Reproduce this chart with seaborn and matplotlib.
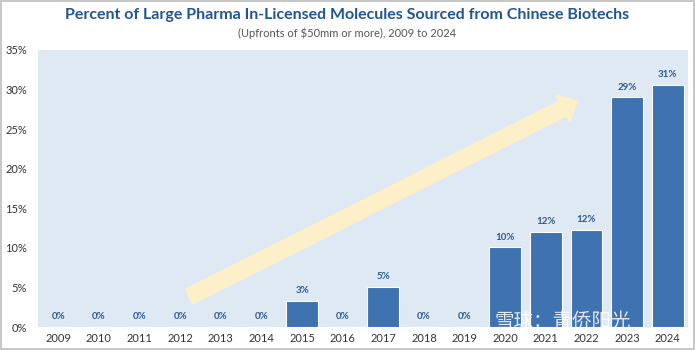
import matplotlib
matplotlib.use("Agg")
import matplotlib.pyplot as plt
import seaborn as sns
import pandas as pd
from matplotlib.patches import ArrowStyle

years = ["2009", "2010", "2011", "2012", "2013", "2014", "2015", "2016",
         "2017", "2018", "2019", "2020", "2021", "2022", "2023", "2024"]
share = [0, 0, 0, 0, 0, 0, 3.3, 0, 5.1, 0, 0, 10.1, 12.0, 12.3, 29.0, 30.6]
labels = ["0%", "0%", "0%", "0%", "0%", "0%", "3%", "0%", "5%", "0%", "0%",
          "10%", "12%", "12%", "29%", "31%"]
yticks = [0, 5, 10, 15, 20, 25, 30, 35]

df = pd.DataFrame({"year": years, "share": share})

sns.set_theme(style="white")
plt.rcParams["font.family"] = ["Lato", "Noto Sans CJK SC", "DejaVu Sans"]

fig = plt.figure(figsize=(6.95, 3.5), dpi=100)
fig.patch.set_facecolor("white")
fig.patch.set_edgecolor("#c8c8c8")
fig.patch.set_linewidth(1.5)
ax = fig.add_axes([38/695, 23/350, 650/695, 277/350])
ax.set_facecolor("#dee9f4")

sns.barplot(data=df, x="year", y="share", color="#3f72b0", saturation=1,
            width=0.78, edgecolor="white", linewidth=0.8, ax=ax, zorder=2)

ax.set_ylim(0, 35)
ax.set_xlim(-0.5, len(years) - 0.5)
ax.set_yticks(yticks)
ax.set_yticklabels([f"{t}%" for t in yticks])
ax.tick_params(axis="both", length=0, labelsize=8, colors="#333333")
ax.tick_params(axis="y", pad=8)
ax.tick_params(axis="x", pad=4)
ax.set_xlabel("")
ax.set_ylabel("")
for s in ax.spines.values():
    s.set_visible(False)

# trend arrow (behind bars)
ax.annotate("", xy=(12.8, 28.6), xytext=(3.2, 3.8),
            arrowprops=dict(arrowstyle=ArrowStyle.Simple(head_length=0.8, head_width=1.5, tail_width=0.8),
                            mutation_scale=16, color="#fdf0c9", lw=0, shrinkA=0, shrinkB=0),
            zorder=0.5)

for i, (v, lab) in enumerate(zip(share, labels)):
    ax.text(i, v + 0.7, lab, ha="center", va="bottom", fontsize=7,
            fontweight="bold", color="#2c5a8e", zorder=3)

fig.text(0.5, 1 - 15/350, "Percent of Large Pharma In-Licensed Molecules Sourced from Chinese Biotechs",
         ha="center", va="center", fontsize=11.5, fontweight="bold", color="#1f5597")
fig.text(0.5, 1 - 33/350, "(Upfronts of $50mm or more), 2009 to 2024",
         ha="center", va="center", fontsize=8, color="#555555")

fig.text(0.81, 1 - 321/350, "雪球：青侨阳光", ha="center", va="center", fontsize=14,
         color="white", alpha=0.85, family=["Noto Sans CJK SC"], zorder=10)

fig.savefig("out.png", dpi=100, facecolor=fig.get_facecolor(), edgecolor=fig.get_edgecolor())
